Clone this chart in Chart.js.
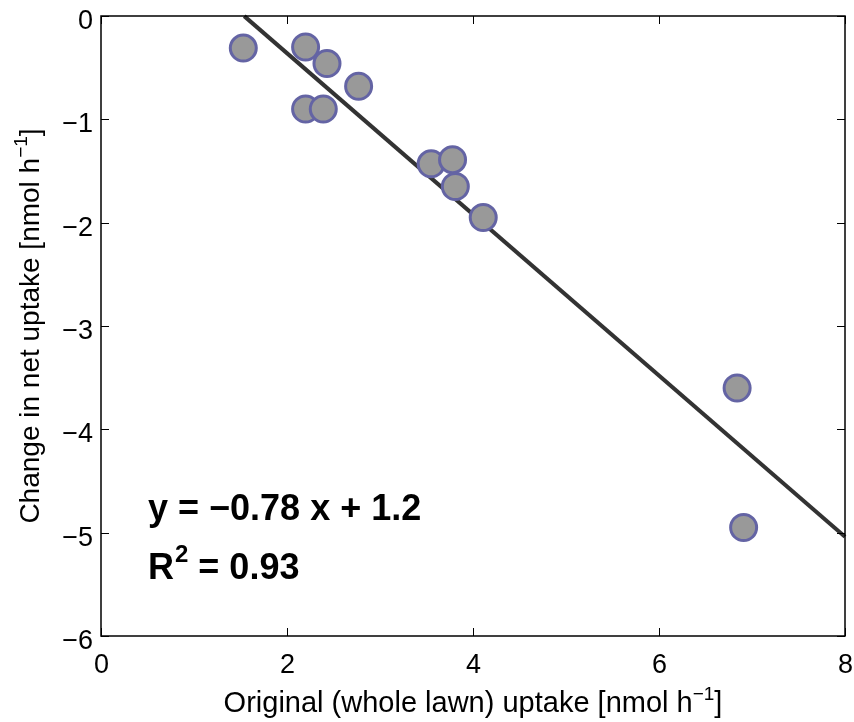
<!DOCTYPE html>
<html>
<head>
<meta charset="utf-8">
<script src="https://cdn.jsdelivr.net/npm/chart.js@4.4.1/dist/chart.umd.min.js"></script>
<style>
  html, body { margin: 0; padding: 0; background: #fff; }
  #wrap { width: 854px; height: 722px; }
</style>
</head>
<body>
<div id="wrap"><canvas id="c" width="854" height="722"></canvas></div>
<script>
// ---- data ----
const xValues = [1.53, 2.20, 2.43, 2.77, 2.20, 2.39, 3.55, 3.78, 3.81, 4.11, 6.84, 6.91];
const yValues = [-0.31, -0.30, -0.46, -0.68, -0.90, -0.90, -1.43, -1.39, -1.65, -1.95, -3.60, -4.95];
const fitX = [1.54, 8];
const fitY = [-0.78 * 1.54 + 1.2, -0.78 * 8 + 1.2];
const xTicks = [0, 2, 4, 6, 8];
const yTicks = [0, -1, -2, -3, -4, -5, -6];
const xTitle = ['Original (whole lawn) uptake [nmol h', '\u22121', ']'];
const yTitle = ['Change in net uptake [nmol h', '\u22121', ']'];
const eqLine1 = 'y = \u22120.78 x + 1.2';
const eqLine2 = ['R', '2', ' = 0.93'];

const FONT = '"Liberation Sans", Arial, Helvetica, sans-serif';
const fmt = v => (v < 0 ? '\u2212' + Math.abs(v) : String(v));

function drawTitle(ctx, parts, size, sup, x0, by, rise) {
  ctx.font = size + 'px ' + FONT;
  const w0 = ctx.measureText(parts[0]).width;
  ctx.font = sup + 'px ' + FONT;
  const w1 = ctx.measureText(parts[1]).width;
  ctx.font = size + 'px ' + FONT;
  const w2 = ctx.measureText(parts[2]).width;
  const total = w0 + w1 + w2;
  const s = x0 - total / 2;
  ctx.font = size + 'px ' + FONT; ctx.fillText(parts[0], s, by);
  ctx.font = sup + 'px ' + FONT; ctx.fillText(parts[1], s + w0, by - rise);
  ctx.font = size + 'px ' + FONT; ctx.fillText(parts[2], s + w0 + w1, by);
}

const framePlugin = {
  id: 'frame',
  afterDraw(chart) {
    const ctx = chart.ctx;
    const a = chart.chartArea;
    const xs = chart.scales.x, ys = chart.scales.y;
    ctx.save();
    ctx.strokeStyle = '#000';
    ctx.lineWidth = 1.5;
    ctx.strokeRect(a.left, a.top, a.right - a.left, a.bottom - a.top);
    ctx.lineWidth = 1;
    const tl = 8;
    ctx.fillStyle = '#000';
    ctx.font = '27px ' + FONT;
    xTicks.forEach(v => {
      const px = Math.round(xs.getPixelForValue(v)) + 0.5;
      ctx.beginPath();
      ctx.moveTo(px, a.bottom); ctx.lineTo(px, a.bottom - tl);
      ctx.moveTo(px, a.top); ctx.lineTo(px, a.top + tl);
      ctx.stroke();
      ctx.textAlign = 'center';
      ctx.textBaseline = 'alphabetic';
      ctx.fillText(fmt(v), px, a.bottom + 37);
    });
    yTicks.forEach(v => {
      const py = Math.round(ys.getPixelForValue(v)) + 0.5;
      ctx.beginPath();
      ctx.moveTo(a.left, py); ctx.lineTo(a.left + tl, py);
      ctx.moveTo(a.right, py); ctx.lineTo(a.right - tl, py);
      ctx.stroke();
      ctx.textAlign = 'right';
      ctx.textBaseline = 'alphabetic';
      ctx.fillText(fmt(v), a.left - 8, py + 12);
    });

    // axis titles with superscripts
    ctx.textBaseline = 'alphabetic';
    ctx.textAlign = 'left';
    drawTitle(ctx, xTitle, 29, 19, (a.left + a.right) / 2, 712, 12);
    ctx.save();
    ctx.translate(39, (a.top + a.bottom) / 2);
    ctx.rotate(-Math.PI / 2);
    drawTitle(ctx, yTitle, 28, 19, 0, 0, 12);
    ctx.restore();

    // equation annotation
    ctx.font = 'bold 36px ' + FONT;
    ctx.fillText(eqLine1, 148, 520);
    const rW = ctx.measureText(eqLine2[0]).width;
    ctx.fillText(eqLine2[0], 148, 579);
    ctx.font = 'bold 24px ' + FONT;
    const sW = ctx.measureText(eqLine2[1]).width;
    ctx.fillText(eqLine2[1], 148 + rW + 1, 562);
    ctx.font = 'bold 36px ' + FONT;
    ctx.fillText(eqLine2[2], 148 + rW + sW + 1, 579);
    ctx.restore();
  }
};

function zeroPad(s) {
  s.paddingLeft = 0; s.paddingRight = 0; s.paddingTop = 0; s.paddingBottom = 0;
}

new Chart(document.getElementById('c'), {
  type: 'scatter',
  data: {
    datasets: [
      {
        type: 'line',
        data: fitX.map((x, i) => ({ x: x, y: fitY[i] })),
        borderColor: '#333333',
        borderWidth: 4,
        pointRadius: 0,
        fill: false,
        clip: false,
        order: 2
      },
      {
        data: xValues.map((x, i) => ({ x: x, y: yValues[i] })),
        backgroundColor: '#999999',
        borderColor: '#6464a4',
        borderWidth: 3,
        pointRadius: 13,
        pointHoverRadius: 13,
        order: 1
      }
    ]
  },
  options: {
    responsive: false,
    animation: false,
    devicePixelRatio: 1,
    layout: { autoPadding: false, padding: { top: 16, right: 9, left: 0, bottom: 0 } },
    plugins: { legend: { display: false }, tooltip: { enabled: false } },
    scales: {
      x: {
        type: 'linear', min: 0, max: 8,
        afterBuildTicks: s => { s.ticks = xTicks.map(v => ({ value: v })); },
        afterFit: s => { s.height = 86; zeroPad(s); },
        grid: { display: false, drawTicks: false },
        border: { display: false },
        ticks: { display: false }
      },
      y: {
        type: 'linear', min: -6, max: 0,
        afterBuildTicks: s => { s.ticks = yTicks.map(v => ({ value: v })); },
        afterFit: s => { s.width = 101; zeroPad(s); },
        grid: { display: false, drawTicks: false },
        border: { display: false },
        ticks: { display: false }
      }
    }
  },
  plugins: [framePlugin]
});
</script>
</body>
</html>
